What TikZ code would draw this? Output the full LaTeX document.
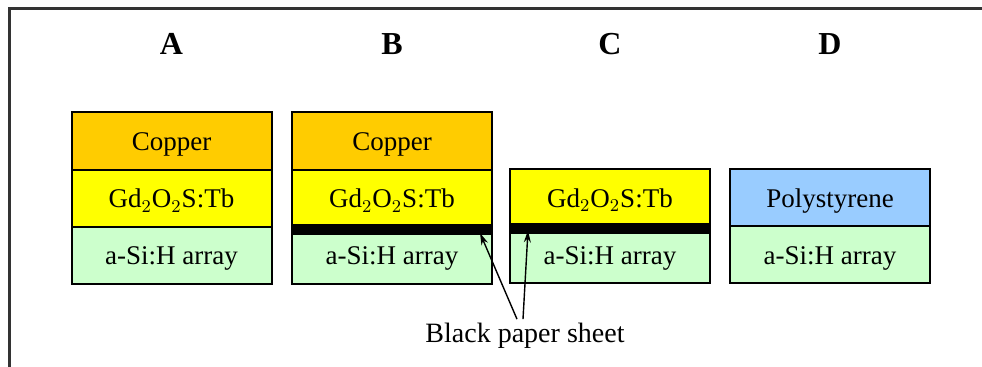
\documentclass[tikz,border=0pt]{standalone}
\usepackage{fontspec}
\setmainfont{Liberation Serif}
\usetikzlibrary{positioning,arrows.meta}

\definecolor{copperfill}{RGB}{255,204,0}
\definecolor{gdfill}{RGB}{255,255,0}
\definecolor{sifill}{RGB}{204,255,204}
\definecolor{psfill}{RGB}{153,204,255}

\tikzset{
    layer/.style={draw, line width=1pt, inner sep=0pt, outer sep=0pt,
        text height=9.5pt, text depth=0pt,
        minimum width=100pt, minimum height=28.5pt, font=\fontsize{13.5}{16}\selectfont},
    copper/.style={layer, fill=copperfill, minimum height=29pt},
    phosphor/.style={layer, fill=gdfill},
    array/.style={layer, fill=sifill},
    plastic/.style={layer, fill=psfill},
    sheet/.style={draw, fill=black, line width=1pt, inner sep=0pt, outer sep=0pt,
        minimum width=100pt, minimum height=4.5pt},
    heading/.style={font=\fontsize{16}{19}\selectfont\bfseries, inner sep=0pt},
    pointer/.style={-{Stealth[length=6pt,width=3.5pt]}, line width=0.7pt},
}

\newcommand{\gdos}{Gd$_2$O$_2$S:Tb}

\begin{document}
\begin{tikzpicture}[x=0.5pt, y=-0.5pt]
    \useasboundingbox (0,0) rectangle (982,367);
    \draw[line width=1.5pt, black!80] (982,9) -- (9,9) -- (9,367);

    \foreach \x/\t in {171.5/A,392/B,610/C,830/D} {
        \node[heading] (head\t) at (\x,44) {\t};
    }

    % A
    \node[copper] (cuA) at (171.5,141) {Copper};
    \node[phosphor, below=0pt of cuA] (gdA) {\gdos};
    \node[array, below=0pt of gdA] (siA) {a-Si:H array};

    % B
    \node[copper] (cuB) at (392,141) {Copper};
    \node[phosphor, below=0pt of cuB] (gdB) {\gdos};
    \node[array, below=0pt of gdB] (siB) {a-Si:H array};
    \node[sheet] (bandB) at ([yshift=-1.25pt]gdB.south) {};

    % C
    \node[phosphor] (gdC) at (610,198) {\gdos};
    \node[array, below=0pt of gdC] (siC) {a-Si:H array};
    \node[sheet] (bandC) at ([yshift=-1.25pt]gdC.south) {};

    % D
    \node[plastic] (psD) at (830,198) {Polystyrene};
    \node[array, below=0pt of psD] (siD) {a-Si:H array};

    \node[font=\fontsize{14}{17}\selectfont, inner sep=2pt, anchor=base] (paper) at (525,343) {Black paper sheet};
    \draw[pointer] ([xshift=-4pt]paper.north) -- ([xshift=-6pt,yshift=0.5pt]bandB.south east);
    \draw[pointer] ([xshift=-1pt]paper.north) -- ([xshift=9pt,yshift=1.5pt]bandC.south west);
\end{tikzpicture}
\end{document}
